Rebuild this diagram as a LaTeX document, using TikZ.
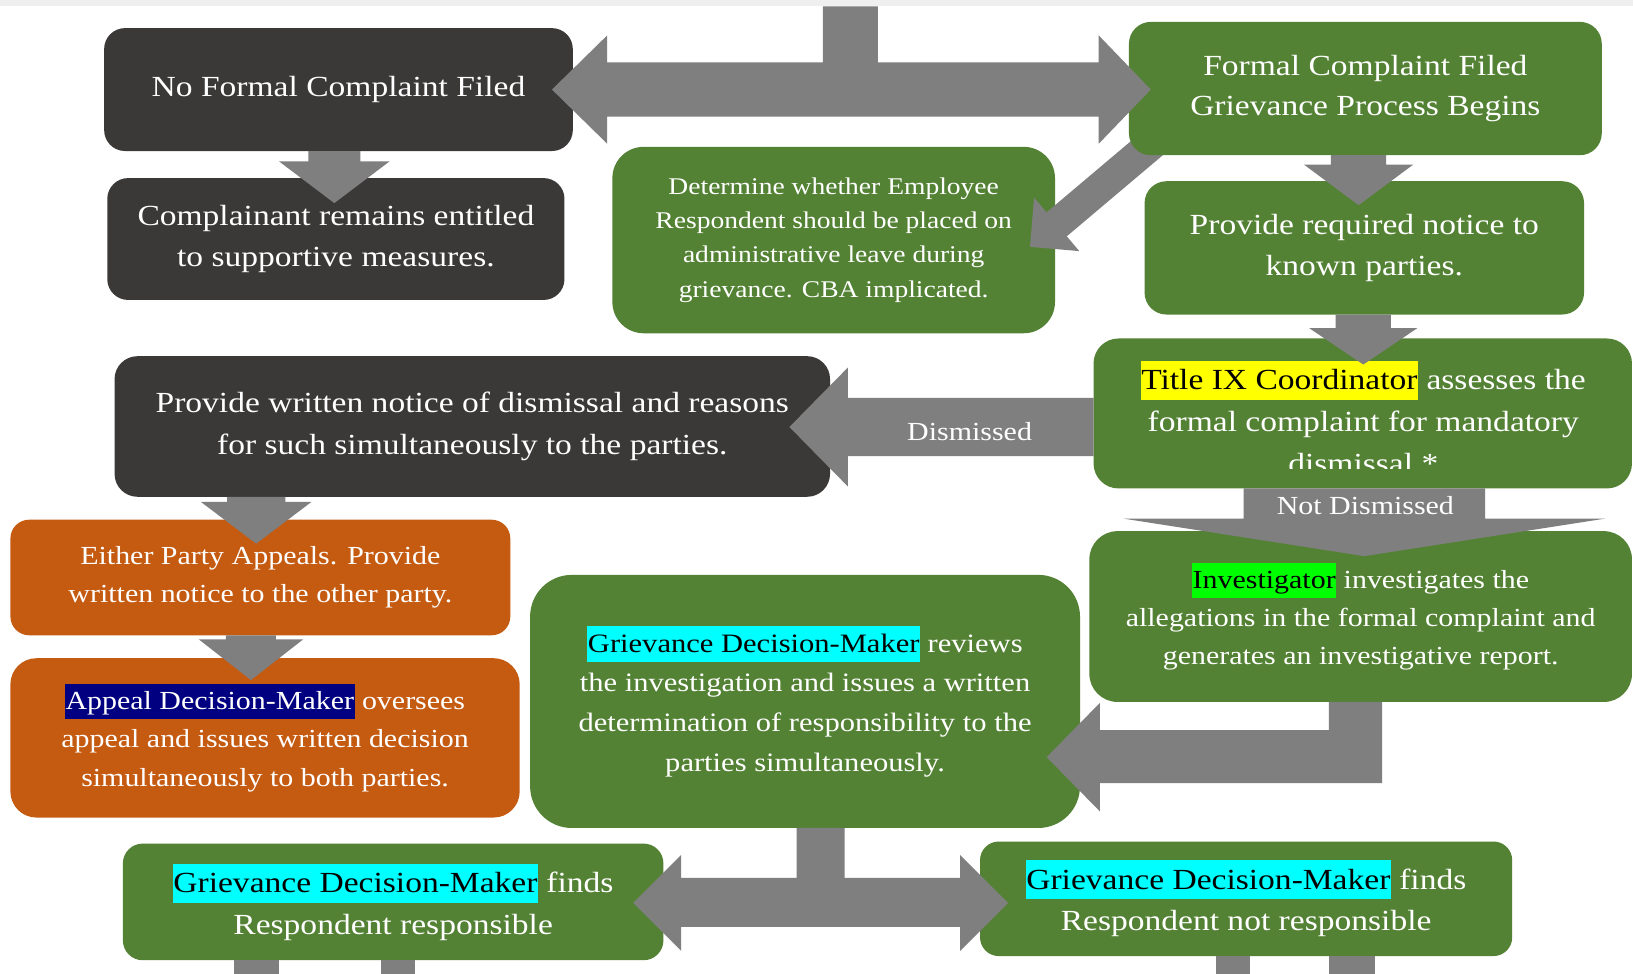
\documentclass[tikz,border=0pt]{standalone}
\usepackage{fontspec}
\setmainfont[FakeStretch=1.15]{Liberation Serif}
\usetikzlibrary{calc}
\definecolor{darkbox}{HTML}{3B3838}
\definecolor{greenbox}{HTML}{548235}
\definecolor{orangebox}{HTML}{C55A11}
\definecolor{arrowgray}{HTML}{7F7F7F}
\definecolor{topband}{HTML}{EFEFEF}
\definecolor{hlyellow}{HTML}{FFFF00}
\definecolor{hlgreen}{HTML}{00FF00}
\definecolor{hlcyan}{HTML}{00FFFF}
\definecolor{hlnavy}{HTML}{000080}
\newcommand\hlbox[3]{{\setlength{\fboxsep}{0.5pt}\colorbox{#1}{\rule[-0.33em]{0pt}{1.3em}\textcolor{#2}{#3}}}}
\newcommand\fs[2]{\fontsize{#1}{#2}\selectfont}
% vertical block arrow: x centre, y start, y head base, y tip, shaft half, head half
\newcommand\darrow[6]{\fill[barrow] ({#1-#5},#2) -- ({#1+#5},#2) -- ({#1+#5},#3) -- ({#1+#6},#3) -- (#1,#4) -- ({#1-#6},#3) -- ({#1-#5},#3) -- cycle;}
\begin{document}
\begin{tikzpicture}[x=1pt,y=-1pt,
  card/.style={rounded corners=#1, inner sep=0pt, text=white, align=center, anchor=center},
  barrow/.style={fill=arrowgray},
  lbl/.style={text=white, inner sep=0pt, font=\fs{25}{30}}]
\useasboundingbox (0,0) rectangle (1568,935);
\fill[white] (0,0) rectangle (1568,935);
\fill[topband] (0,0) rectangle (1568,6);

% left top boxes
\node[card=20pt, fill=darkbox, minimum width=450pt, minimum height=118pt, font=\fs{28}{40}] (nf) at (325,86) {No Formal Complaint Filed};
\node[card=20pt, fill=darkbox, minimum width=439pt, minimum height=117pt, font=\fs{28}{40}] (cp) at (322.5,229.5) {Complainant remains entitled\\to supportive measures.};
\node[card=30pt, fill=greenbox, minimum width=425pt, minimum height=179pt, font=\fs{23}{33}] (det) at (800.5,230.5) {Determine whether Employee\\Respondent should be placed on\\administrative leave during\\grievance. CBA implicated.};

% diagonal arrow from formal complaint to determine box
\fill[barrow] (1127.1,100.7) -- (1004.9,203.9) -- (992.9,189.7) -- (989,237) -- (1036.3,241.1) -- (1024.3,226.9) -- (1146.5,123.7) -- cycle;

\node[card=21pt, fill=greenbox, minimum width=454pt, minimum height=128pt, font=\fs{28}{39}] (ff) at (1311,85) {Formal Complaint Filed\\Grievance Process Begins};
\node[card=21pt, fill=greenbox, minimum width=422pt, minimum height=128pt, font=\fs{28}{40}] (pn) at (1310,238) {Provide required notice to\\known parties.};

% Title IX box with clipped text
\node[card=24pt, fill=greenbox, minimum width=517pt, minimum height=144pt] (t9) at (1308.5,397) {};
\begin{scope}
\clip (1050,325) rectangle (1567,449.6);
\node[card=0pt, font=\fs{28}{40}] (t9txt) at (1309,400.5) {\hlbox{hlyellow}{black}{Title IX Coordinator} assesses the\\formal complaint for mandatory\\dismissal *};
\end{scope}

\node[card=22pt, fill=darkbox, minimum width=687pt, minimum height=135pt, font=\fs{28}{40}] (pw) at (453.5,409.5) {Provide written notice of dismissal and reasons\\for such simultaneously to the parties.};
\node[card=18pt, fill=orangebox, minimum width=480pt, minimum height=111pt, font=\fs{25}{37}] (ep) at (250,554.5) {Either Party Appeals. Provide\\written notice to the other party.};
\node[card=25pt, fill=orangebox, minimum width=489pt, minimum height=153pt, font=\fs{25}{37}] (ap) at (254.5,708.5) {\hlbox{hlnavy}{white}{Appeal Decision-Maker} oversees\\appeal and issues written decision\\simultaneously to both parties.};
\node[card=40pt, fill=greenbox, minimum width=528pt, minimum height=243pt, font=\fs{25.5}{38}] (gr) at (773,673.5) {\hlbox{hlcyan}{black}{Grievance Decision-Maker} reviews\\the investigation and issues a written\\determination of responsibility to the\\parties simultaneously.};
\node[card=27pt, fill=greenbox, minimum width=521pt, minimum height=164pt, font=\fs{25}{36.5}] (inv) at (1306.5,592) {\hlbox{hlgreen}{black}{Investigator} investigates the\\allegations in the formal complaint and\\generates an investigative report.};
\node[card=19pt, fill=greenbox, minimum width=519pt, minimum height=112pt, font=\fs{28}{40}] (gdr) at (377.5,866) {\hlbox{hlcyan}{black}{Grievance Decision-Maker} finds\\Respondent responsible};
\node[card=18pt, fill=greenbox, minimum width=511pt, minimum height=110pt, font=\fs{28}{40}] (gdn) at (1196.5,863) {\hlbox{hlcyan}{black}{Grievance Decision-Maker} finds\\Respondent not responsible};

% top T double arrow
\fill[barrow] (583,60) -- (790,60) -- (790,6) -- (843,6) -- (843,60) -- (1055,60) -- (1055,34) -- (1105,86) -- (1055,138) -- (1055,112) -- (583,112) -- (583,138) -- (530,86) -- (583,34) -- cycle;

% vertical arrows
\darrow{321}{145}{155}{195}{25}{53}
\darrow{1304.5}{149}{158}{197}{26.5}{52.5}
\darrow{1309}{302}{315}{350}{26.5}{52}
\darrow{246}{477}{482}{522}{28}{53}
\darrow{241}{610}{614}{653}{24}{50}
\darrow{1310}{469}{498}{534}{116}{231}
\node[lbl] (ndlbl) at (1311,485) {Not Dismissed};

% dismissed arrow
\fill[barrow] (1050,382) -- (814,382) -- (814,353) -- (758,410) -- (814,467) -- (814,438) -- (1050,438) -- cycle;
\node[lbl] (dlbl) at (931,414) {Dismissed};

% elbow arrow investigator -> grievance decision-maker
\fill[barrow] (1276,674) -- (1327,674) -- (1327,752) -- (1056,752) -- (1056,779) -- (1005,727) -- (1056,675) -- (1056,701) -- (1276,701) -- cycle;

% bottom T double arrow
\fill[barrow] (654,843) -- (765,843) -- (765,795) -- (811,795) -- (811,843) -- (922,843) -- (922,821) -- (968,867) -- (922,913) -- (922,890) -- (654,890) -- (654,913) -- (608,867) -- (654,821) -- cycle;

% stubs leaving the bottom edge
\fill[barrow] (225,922) rectangle (268,935);
\fill[barrow] (366,922) rectangle (398,935);
\fill[barrow] (1168,918) rectangle (1200,935);
\fill[barrow] (1276,918) rectangle (1320,935);
\end{tikzpicture}
\end{document}
